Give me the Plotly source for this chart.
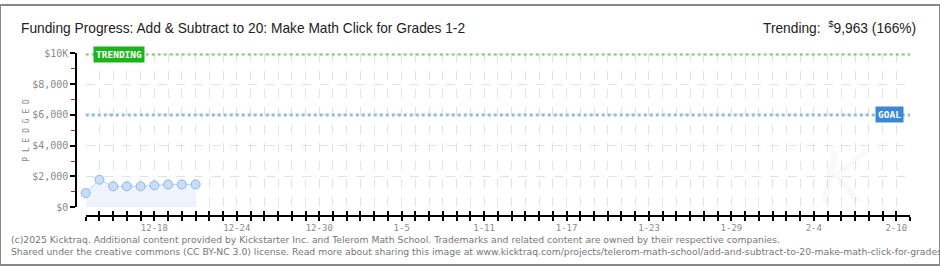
import plotly.graph_objects as go

# ---- data ----
DATES = ["2024-12-13", "2024-12-14", "2024-12-15", "2024-12-16", "2024-12-17",
         "2024-12-18", "2024-12-19", "2024-12-20", "2024-12-21"]
PLEDGED = [920, 1790, 1360, 1360, 1360, 1420, 1480, 1480, 1480]
GOAL = 6000
TRENDING = 9963
TRENDING_PCT = 166
X_RANGE = ["2024-12-13", "2025-02-11"]
X_TICKS = ["2024-12-18", "2024-12-24", "2024-12-30", "2025-01-05", "2025-01-11",
           "2025-01-17", "2025-01-23", "2025-01-29", "2025-02-04", "2025-02-10"]
X_TICK_LABELS = ["12-18", "12-24", "12-30", "1-5", "1-11", "1-17", "1-23", "1-29", "2-4", "2-10"]
Y_TICKS = [0, 2000, 4000, 6000, 8000, 10000]
Y_TICK_LABELS = ["$0", "$2,000", "$4,000", "$6,000", "$8,000", "$10K"]

W, H = 940, 270
def px(x):
    return x / W
def py(y):
    return 1 - y / H

GRID = "#e2e2e2"
LABEL_GRAY = "#8a8a8a"
DAY_MS = 86400000

fig = go.Figure()

fig.add_trace(go.Scatter(
    x=DATES, y=PLEDGED, mode="lines+markers",
    line=dict(color="#b9d3f1", width=1),
    fill="tozeroy", fillcolor="#edf4fc",
    marker=dict(size=9, color="#c9def6", line=dict(color="#8db6e6", width=1)),
    cliponaxis=False, hoverinfo="skip", showlegend=False,
))
# invisible trace to materialise the overlaying axis used for inward ticks
fig.add_trace(go.Scatter(x=X_RANGE, y=[None, None], xaxis="x2", yaxis="y",
                         mode="lines", showlegend=False, hoverinfo="skip"))

# goal and trending lines
fig.add_shape(type="line", xref="x domain", yref="y", x0=0, x1=1, y0=GOAL, y1=GOAL,
              line=dict(color="#8fbbea", width=3, dash="dot"), layer="above")
fig.add_shape(type="line", xref="x domain", yref="y", x0=0, x1=1, y0=TRENDING, y1=TRENDING,
              line=dict(color="#6fd164", width=3, dash="dot"), layer="above")

xcommon = dict(
    type="date", range=X_RANGE, domain=[px(85.7), px(910)],
    anchor="free", position=py(219),
    showline=True, linecolor="black", linewidth=1.5,
    tickvals=X_TICKS, ticktext=X_TICK_LABELS,
    tickfont=dict(family="DejaVu Sans Mono", size=9, color=LABEL_GRAY),
    ticklen=4, tickcolor="black", tickwidth=1.5,
)
fig.update_layout(
    width=W, height=H,
    margin=dict(l=0, r=0, t=0, b=0),
    paper_bgcolor="white", plot_bgcolor="white",
    xaxis=dict(**xcommon, ticks="outside", showgrid=True, gridcolor=GRID,
               griddash="dash", gridwidth=1, zeroline=False,
               minor=dict(dtick=DAY_MS, tick0=X_RANGE[0], ticks="outside", ticklen=4,
                          tickcolor="black", tickwidth=1.5, showgrid=True,
                          gridcolor=GRID, griddash="dash", gridwidth=1)),
    xaxis2=dict(**xcommon, overlaying="x", ticks="inside", showgrid=False,
                showticklabels=False, zeroline=False,
                minor=dict(dtick=DAY_MS, tick0=X_RANGE[0], ticks="inside", ticklen=4,
                           tickcolor="black", tickwidth=1.5, showgrid=False)),
    yaxis=dict(
        range=[0, 10000], domain=[py(210), py(50.3)],
        anchor="free", position=px(76),
        showline=True, linecolor="black", linewidth=1.5,
        tickvals=Y_TICKS, ticktext=Y_TICK_LABELS,
        ticks="outside", ticklen=5, tickcolor="black", tickwidth=1.5,
        tickfont=dict(family="DejaVu Sans Mono", size=10, color=LABEL_GRAY),
        showgrid=True, gridcolor=GRID, griddash="dash", gridwidth=1, zeroline=False,
        minor=dict(dtick=1000, ticks="outside", ticklen=4, tickcolor="#dd2222",
                   tickwidth=1, showgrid=False),
    ),
)

# labels on reference lines
fig.add_annotation(xref="paper", yref="y", x=px(93), y=TRENDING, xanchor="left",
                   text="<b>TRENDING</b>", showarrow=False, bgcolor="#1bb51b",
                   font=dict(family="DejaVu Sans Mono", size=9.5, color="white"),
                   borderpad=2)
fig.add_annotation(xref="paper", yref="y", x=px(904), y=GOAL, xanchor="right",
                   text="<b>GOAL</b>", showarrow=False, bgcolor="#3a88d8",
                   font=dict(family="DejaVu Sans Mono", size=9.5, color="white"),
                   borderpad=2)

# titles
fig.add_annotation(xref="paper", yref="paper", x=px(19), y=py(24), xanchor="left",
                   yanchor="middle", showarrow=False,
                   text="Funding Progress: Add &amp; Subtract to 20: Make Math Click for Grades 1-2",
                   font=dict(family="Liberation Sans", size=13.75, color="#222"))
fig.add_annotation(xref="paper", yref="paper", x=px(918), y=py(23), xanchor="right",
                   yanchor="middle", showarrow=False,
                   text=f"Trending:  <sup>$</sup>{TRENDING:,} ({TRENDING_PCT}%)",
                   font=dict(family="Liberation Sans", size=13.75, color="#222"))
fig.add_annotation(xref="paper", yref="paper", x=px(20), y=py(130), textangle=-90,
                   showarrow=False, text="P L E D G E D",
                   font=dict(family="DejaVu Sans Mono", size=8, color=LABEL_GRAY))

# footer
fig.add_annotation(xref="paper", yref="paper", x=px(9), y=py(244), xanchor="left",
                   yanchor="middle", showarrow=False,
                   text="(c)2025 Kicktraq. Additional content provided by Kickstarter Inc. and Telerom Math School. Trademarks and related content are owned by their respective companies.",
                   font=dict(family="DejaVu Sans", size=9.25, color="#777"))
fig.add_annotation(xref="paper", yref="paper", x=px(9), y=py(256), xanchor="left",
                   yanchor="middle", showarrow=False,
                   text="Shared under the creative commons (CC BY-NC 3.0) license. Read more about sharing this image at www.kicktraq.com/projects/telerom-math-school/add-and-subtract-to-20-make-math-click-for-grades-1-2/",
                   font=dict(family="DejaVu Sans", size=9.25, color="#777"))

# watermark
fig.add_annotation(xref="paper", yref="paper", x=px(873), y=py(180), showarrow=False,
                   text="<i>K</i>", font=dict(family="DejaVu Sans", size=70, color="rgba(0,0,0,0.025)"))

# frame
fig.add_shape(type="rect", xref="paper", yref="paper", x0=0, x1=1, y0=0, y1=1,
              line=dict(color="#888", width=2))

fig.write_html("out.html")
